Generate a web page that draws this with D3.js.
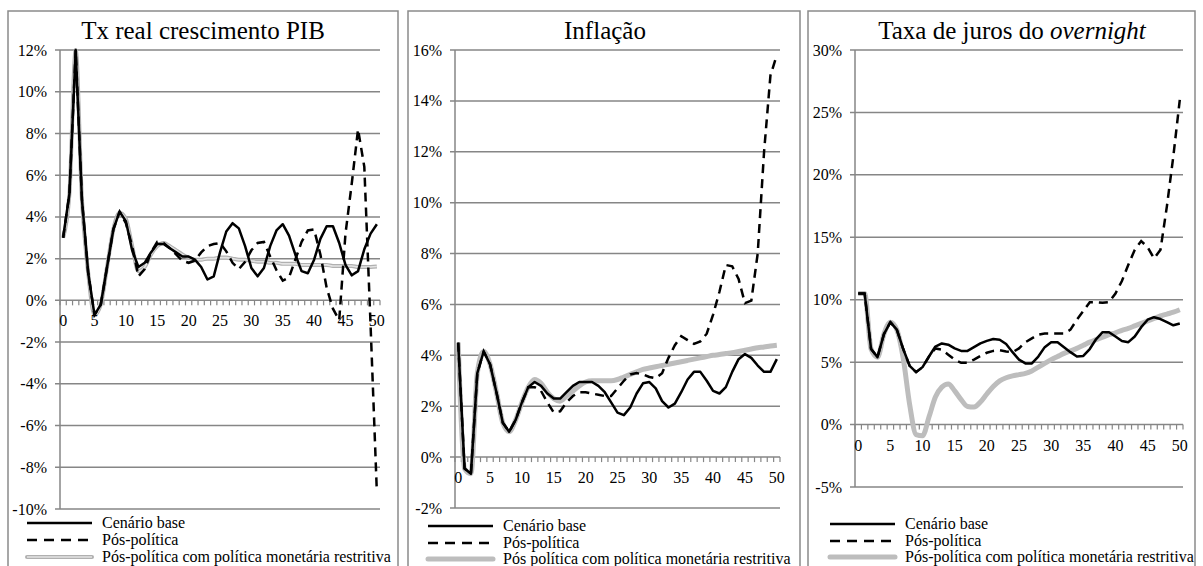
<!DOCTYPE html>
<html>
<head>
<meta charset="utf-8">
<script src="https://cdn.jsdelivr.net/npm/d3@7"></script>
</head>
<body style="margin:0">
<svg id="chart" width="1203" height="566" font-family="Times New Roman"></svg>
<script>
// periods 0..50
var periods = d3.range(0, 51);
var xTicks = [0, 5, 10, 15, 20, 25, 30, 35, 40, 45, 50];

// Tx real crescimento PIB (%)
var pibBase = [3.0,5.1,12.0,4.8,1.3,-0.7,-0.2,1.6,3.4,4.25,3.8,2.4,1.6,1.8,2.3,2.7,2.7,2.5,2.3,2.1,2.1,1.95,1.6,1.0,1.15,2.3,3.3,3.7,3.45,2.6,1.55,1.15,1.55,2.6,3.35,3.65,3.1,2.2,1.4,1.3,1.95,2.95,3.55,3.55,2.75,1.7,1.2,1.4,2.45,3.2,3.65];
var pibPos = [3.0,5.1,12.0,4.8,1.3,-0.7,-0.2,1.6,3.4,4.25,3.7,2.6,1.15,1.5,2.3,2.8,2.75,2.5,2.2,1.9,1.8,1.9,2.3,2.6,2.7,2.75,2.35,1.8,1.5,1.85,2.4,2.75,2.8,2.1,1.45,0.95,1.1,1.95,2.8,3.35,3.4,2.2,0.6,-0.4,-0.95,3.2,5.6,8.2,6.4,-1.2,-9.2];
var pibRestr = [3.0,5.1,12.0,4.8,1.3,-0.7,-0.2,1.6,3.4,4.2,3.9,2.6,1.4,1.6,2.2,2.6,2.75,2.6,2.4,2.2,2.05,1.95,1.95,2.0,2.0,2.05,2.05,2.0,1.95,1.95,1.9,1.85,1.85,1.8,1.8,1.75,1.75,1.75,1.7,1.7,1.7,1.7,1.7,1.65,1.65,1.65,1.65,1.6,1.6,1.6,1.62];
var pibTicks = [-10, -8, -6, -4, -2, 0, 2, 4, 6, 8, 10, 12];

// Inflação (%)
var infBase = [4.5,-0.45,-0.65,3.3,4.15,3.65,2.55,1.35,1.0,1.45,2.15,2.75,2.95,2.8,2.5,2.3,2.3,2.55,2.8,2.95,2.95,2.95,2.8,2.55,2.15,1.75,1.65,1.95,2.5,2.9,2.95,2.7,2.2,1.95,2.1,2.55,3.05,3.35,3.35,3.0,2.6,2.5,2.75,3.35,3.85,4.05,3.9,3.6,3.35,3.35,3.85];
var infPos = [4.5,-0.45,-0.65,3.3,4.15,3.65,2.55,1.35,1.0,1.45,2.15,2.75,2.75,2.6,2.15,1.75,1.8,2.15,2.4,2.55,2.55,2.5,2.45,2.4,2.4,2.7,3.0,3.25,3.3,3.25,3.15,3.1,3.3,3.9,4.4,4.75,4.6,4.45,4.55,4.85,5.6,6.5,7.55,7.5,7.0,6.05,6.15,8.0,12.0,15.0,15.8];
var infRestr = [4.5,-0.45,-0.65,3.3,4.15,3.65,2.55,1.35,1.0,1.45,2.15,2.75,3.05,2.9,2.55,2.3,2.2,2.4,2.6,2.8,2.95,3.0,3.0,3.0,3.0,3.05,3.15,3.25,3.35,3.45,3.5,3.55,3.6,3.65,3.7,3.75,3.8,3.85,3.9,3.95,4.0,4.03,4.07,4.1,4.15,4.2,4.25,4.3,4.33,4.37,4.4];
var infTicks = [-2, 0, 2, 4, 6, 8, 10, 12, 14, 16];

// Taxa de juros do overnight (%)
var jurBase = [10.5,10.5,6.05,5.4,7.25,8.2,7.6,6.05,4.7,4.2,4.6,5.45,6.25,6.5,6.4,6.1,5.9,5.9,6.2,6.5,6.7,6.85,6.8,6.45,5.8,5.2,4.9,4.9,5.45,6.2,6.6,6.6,6.2,5.8,5.45,5.5,6.05,6.85,7.4,7.4,7.05,6.7,6.6,7.05,7.8,8.4,8.6,8.45,8.2,7.95,8.1];
var jurPos = [10.5,10.5,6.05,5.4,7.25,8.2,7.6,6.05,4.7,4.2,4.6,5.45,6.1,6.0,5.6,5.2,4.95,4.95,5.2,5.5,5.75,5.9,5.95,5.85,5.8,6.1,6.6,6.9,7.2,7.3,7.3,7.3,7.3,7.6,8.4,9.1,9.8,9.8,9.75,9.8,10.5,11.5,12.8,14.0,14.7,14.2,13.3,14.0,17.5,21.5,26.0];
var jurRestr = [10.5,10.5,6.05,5.4,7.25,8.2,7.6,5.3,1.6,-0.8,-0.9,0.6,2.2,3.0,3.25,2.7,2.0,1.45,1.4,1.8,2.45,3.05,3.5,3.75,3.9,4.0,4.1,4.3,4.6,4.9,5.2,5.45,5.7,5.9,6.1,6.35,6.6,6.8,7.0,7.2,7.35,7.55,7.7,7.9,8.1,8.3,8.5,8.7,8.85,9.0,9.2];
var jurTicks = [-5, 0, 5, 10, 15, 20, 25, 30];

var legendLabels = ["Cenário base", "Pós-política", "Pós-política com política monetária restritiva"];
var legendLabels2 = ["Cenário base", "Pós-política", "Pós política com política monetária restritiva"];

var GRID = "#868686";
var svg = d3.select("#chart");

var panels = [
  { frame: [8, 398], plot: [60, 380, 50, 509], ticks: pibTicks, title: "Tx real crescimento PIB", titleX: 203,
    series: [pibBase, pibPos, pibRestr], thinGray: true, legend: legendLabels, legX: 27, legY: [523, 540, 557] },
  { frame: [408, 800], plot: [455, 780, 50, 508], ticks: infTicks, title: "Inflação", titleX: 605,
    series: [infBase, infPos, infRestr], thinGray: false, legend: legendLabels2, legX: 428, legY: [526, 543, 559] },
  { frame: [808, 1195], plot: [855, 1183, 50, 487], ticks: jurTicks, title: null, titleX: 1012,
    series: [jurBase, jurPos, jurRestr], thinGray: false, legend: legendLabels, legX: 830, legY: [524, 541, 557] }
];

// text goes straight onto the svg root
function label(x, y, size, anchor, str) {
  return svg.append("text")
    .attr("x", x).attr("y", y)
    .attr("text-anchor", anchor)
    .attr("font-family", "Times New Roman")
    .style("font-family", "'Times New Roman', 'Liberation Serif', serif")
    .style("font-size", size + "px")
    .text(str);
}

panels.forEach(function(p, n) {
  var g = svg.append("g");
  var left = p.plot[0], right = p.plot[1], top = p.plot[2], bottom = p.plot[3];

  // panel border
  g.append("rect")
    .attr("x", p.frame[0]).attr("y", 11)
    .attr("width", p.frame[1] - p.frame[0]).attr("height", 570)
    .style("fill", "none").style("stroke", "#8a8a8a").style("stroke-width", 1.5);

  var y = d3.scaleLinear().domain(d3.extent(p.ticks)).range([bottom, top]);
  // categories sit between tick marks
  var x = d3.scaleBand().domain(periods).range([left, right]);
  var cx = function(i) { return x(i) + x.bandwidth() / 2; };

  // gridlines
  g.selectAll(".grid").data(p.ticks).enter().append("line")
    .attr("x1", left - 5).attr("x2", right)
    .attr("y1", function(d) { return y(d); }).attr("y2", function(d) { return y(d); })
    .style("stroke", GRID).style("stroke-width", 1.5);

  p.ticks.forEach(function(d) {
    label(left - 13, y(d) + 5.5, 16, "end", d + "%");
  });

  // y axis line
  g.append("line").attr("x1", left).attr("x2", left).attr("y1", top).attr("y2", bottom)
    .style("stroke", GRID).style("stroke-width", 1.5);

  // x axis at zero with small ticks
  var y0 = y(0);
  g.selectAll(".xtick").data(d3.range(0, 52)).enter().append("line")
    .attr("x1", function(i) { return left + i * x.step(); })
    .attr("x2", function(i) { return left + i * x.step(); })
    .attr("y1", y0).attr("y2", y0 + 5)
    .style("stroke", GRID).style("stroke-width", 1.2);

  xTicks.forEach(function(d) {
    label(cx(d), y0 + 26, 16, "middle", d);
  });

  // title
  if (p.title) {
    label(p.titleX, 39, 25, "middle", p.title);
  } else {
    var t = label(p.titleX, 39, 25, "middle", "");
    t.append("tspan").text("Taxa de juros do ");
    t.append("tspan").style("font-style", "italic").text("overnight");
  }

  // lines
  g.append("clipPath").attr("id", "clip" + n).append("rect")
    .attr("x", left).attr("y", top - 2).attr("width", right - left + 4).attr("height", bottom - top + 2);
  var lines = g.append("g").attr("clip-path", "url(#clip" + n + ")");

  var lineLin = d3.line().x(function(d, i) { return cx(i); }).y(function(d) { return y(d); });
  var lineSmooth = d3.line().x(function(d, i) { return cx(i); }).y(function(d) { return y(d); })
    .curve(d3.curveMonotoneX);

  if (p.thinGray) {
    lines.append("path").attr("d", lineSmooth(p.series[2]))
      .style("fill", "none").style("stroke", "#b0b0b0").style("stroke-width", 4);
    lines.append("path").attr("d", lineSmooth(p.series[2]))
      .style("fill", "none").style("stroke", "#e4e4e4").style("stroke-width", 1.6);
  } else {
    lines.append("path").attr("d", lineSmooth(p.series[2]))
      .style("fill", "none").style("stroke", "#bdbdbd").style("stroke-width", 5);
  }
  lines.append("path").attr("d", lineLin(p.series[1]))
    .style("fill", "none").style("stroke", "#000").style("stroke-width", 2.5)
    .style("stroke-dasharray", "9,6");
  lines.append("path").attr("d", lineLin(p.series[0]))
    .style("fill", "none").style("stroke", "#000").style("stroke-width", 2.5)
    .style("stroke-linejoin", "round");

  // legend
  var lx = p.legX, lw = 65;
  g.append("line").attr("x1", lx).attr("x2", lx + lw).attr("y1", p.legY[0]).attr("y2", p.legY[0])
    .style("stroke", "#000").style("stroke-width", 2.5);
  g.append("line").attr("x1", lx).attr("x2", lx + lw).attr("y1", p.legY[1]).attr("y2", p.legY[1])
    .style("stroke", "#000").style("stroke-width", 2.5).style("stroke-dasharray", "10,7");
  if (p.thinGray) {
    g.append("line").attr("x1", lx).attr("x2", lx + lw).attr("y1", p.legY[2]).attr("y2", p.legY[2])
      .style("stroke", "#b0b0b0").style("stroke-width", 4).style("stroke-linecap", "round");
    g.append("line").attr("x1", lx).attr("x2", lx + lw).attr("y1", p.legY[2]).attr("y2", p.legY[2])
      .style("stroke", "#e4e4e4").style("stroke-width", 1.6);
  } else {
    g.append("line").attr("x1", lx).attr("x2", lx + lw).attr("y1", p.legY[2]).attr("y2", p.legY[2])
      .style("stroke", "#bdbdbd").style("stroke-width", 5).style("stroke-linecap", "round");
  }
  p.legend.forEach(function(d, i) {
    label(lx + lw + 10, p.legY[i] + 5, 16, "start", d);
  });
});
</script>
</body>
</html>
